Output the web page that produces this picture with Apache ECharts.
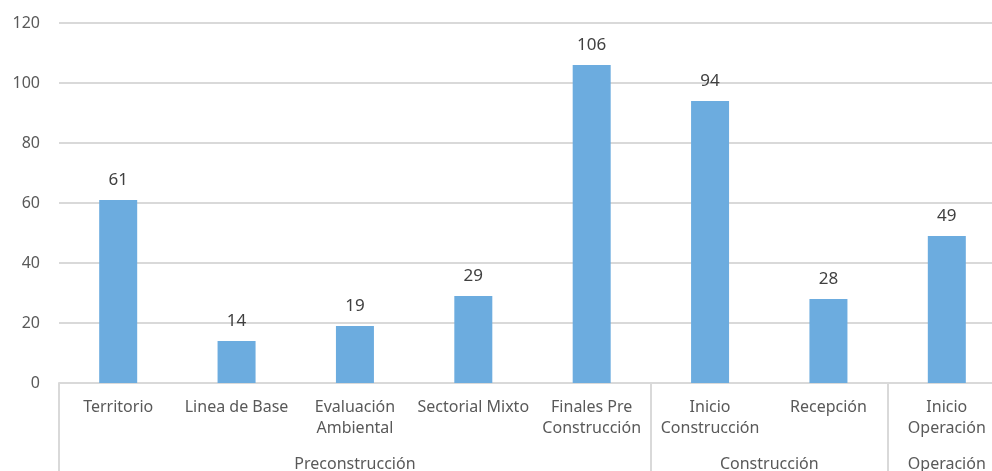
<!DOCTYPE html>
<html>
<head>
<meta charset="utf-8">
<script src="https://cdn.jsdelivr.net/npm/echarts@6/dist/echarts.min.js"></script>
<style>
  html, body { margin: 0; padding: 0; background: #fff; overflow: hidden; }
  #wrap { width: 992px; height: 471px; overflow: hidden; position: relative; }
  #chart { width: 1006px; height: 471px; position: absolute; left: 0; top: 0; }
</style>
</head>
<body>
<div id="wrap"><div id="chart"></div></div>
<script>
// Stage categories (first level) and the phase groups they belong to
const categories = [
  'Territorio', 'Linea de Base', 'Evaluación\nAmbiental', 'Sectorial Mixto',
  'Finales Pre\nConstrucción', 'Inicio\nConstrucción', 'Recepción', 'Inicio\nOperación'
];
const values = [61, 14, 19, 29, 106, 94, 28, 49];

const groupNames = ['Preconstrucción', 'Construcción', 'Operación'];
const groupSizes = [5, 2, 1];

const yTicks = [0, 20, 40, 60, 80, 100, 120];

// Group boundaries and centres, in category units
const groupEdges = [0];
groupSizes.forEach(s => groupEdges.push(groupEdges[groupEdges.length - 1] + s));
const groupCenters = groupSizes.map((s, i) => groupEdges[i] + s / 2);

const font = '"Noto Sans", "Open Sans", sans-serif';
const chart = echarts.init(document.getElementById('chart'), null, { renderer: 'canvas' });

chart.setOption({
  animation: false,
  grid: {
    left: 59, right: 0, top: 23, bottom: 88,
    containLabel: false, outerBoundsMode: 'none'
  },
  xAxis: [
    {
      type: 'category',
      data: categories,
      axisLine: { show: true, lineStyle: { color: '#d9d9d9', width: 2 } },
      axisTick: { show: false },
      axisLabel: {
        interval: 0, margin: 14, color: '#595959',
        fontFamily: font, fontSize: 16, lineHeight: 21, align: 'center'
      }
    },
    {
      type: 'value',
      position: 'bottom',
      min: 0,
      max: groupEdges[groupEdges.length - 1],
      axisLine: { show: false },
      splitLine: { show: false },
      axisTick: {
        show: true, length: 95, inside: false,
        customValues: groupEdges,
        lineStyle: { color: '#d9d9d9', width: 2 }
      },
      axisLabel: {
        show: true, margin: 71, color: '#595959',
        fontFamily: font, fontSize: 16, lineHeight: 21,
        customValues: groupCenters,
        formatter: v => {
          const i = groupCenters.findIndex(c => Math.abs(c - v) < 1e-6);
          return i >= 0 ? groupNames[i] : '';
        }
      }
    }
  ],
  yAxis: {
    type: 'value',
    min: yTicks[0],
    max: yTicks[yTicks.length - 1],
    interval: 20,
    axisLine: { show: false },
    axisTick: { show: false },
    splitLine: { lineStyle: { color: '#d9d9d9', width: 2 } },
    axisLabel: { color: '#595959', fontFamily: font, fontSize: 16, margin: 19 }
  },
  series: [{
    type: 'bar',
    xAxisIndex: 0,
    data: values,
    barWidth: 38,
    itemStyle: { color: '#6cacdf' },
    label: {
      show: true, position: 'top', distance: 11,
      color: '#404040', fontFamily: font, fontSize: 17
    }
  }]
});
</script>
</body>
</html>
